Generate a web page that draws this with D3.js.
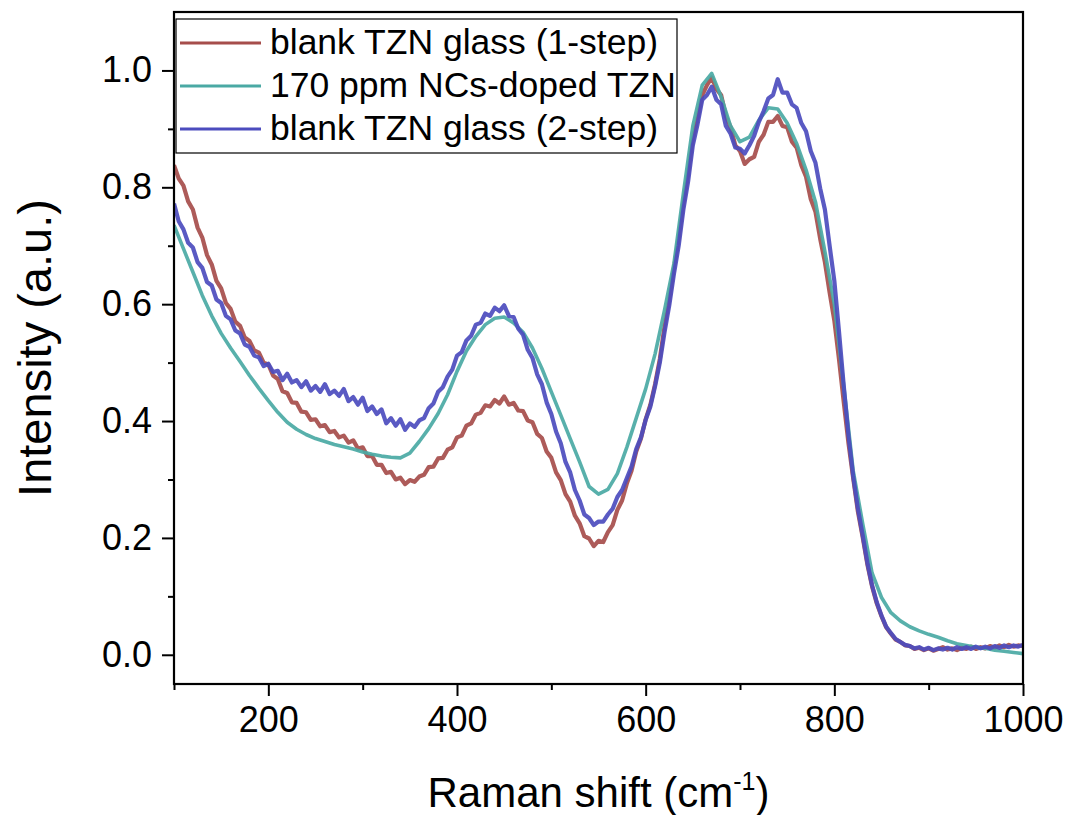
<!DOCTYPE html>
<html>
<head>
<meta charset="utf-8">
<script src="https://cdn.jsdelivr.net/npm/d3@7"></script>
<style>
  html, body { margin: 0; padding: 0; background: #fff; }
  svg { display: block; font-family: "Liberation Sans", Arial, sans-serif; }
</style>
</head>
<body>
<svg id="chart" width="1071" height="815"></svg>
<script>
// Raman spectra of TZN glasses, normalised intensity vs. Raman shift (cm^-1)
const seriesNames = ["blank TZN glass (1-step)", "170 ppm NCs-doped TZN", "blank TZN glass (2-step)"];
const seriesColors = ["#a64d4b", "#4aa9a4", "#4c4cbe"];

// noisy spectra sampled every 5 cm^-1, smooth one every 10 cm^-1
const shift5 = d3.range(100, 1001, 5);
const shift10 = d3.range(100, 1001, 10);

const blank1Step = [
  0.838,0.815,0.803,0.776,0.762,0.731,0.714,0.684,0.668,0.640,
  0.627,0.602,0.592,0.570,0.563,0.543,0.537,0.521,0.517,0.500,
  0.497,0.478,0.472,0.451,0.448,0.432,0.431,0.416,0.415,0.402,
  0.403,0.391,0.393,0.381,0.383,0.372,0.375,0.363,0.367,0.353,
  0.355,0.340,0.340,0.325,0.325,0.311,0.313,0.300,0.303,0.292,
  0.299,0.296,0.305,0.308,0.321,0.322,0.336,0.337,0.351,0.355,
  0.372,0.375,0.392,0.396,0.411,0.414,0.427,0.425,0.436,0.430,
  0.442,0.428,0.431,0.418,0.417,0.401,0.398,0.378,0.371,0.348,
  0.337,0.312,0.299,0.275,0.262,0.238,0.225,0.203,0.199,0.186,
  0.195,0.193,0.210,0.222,0.248,0.264,0.293,0.315,0.348,0.370,
  0.403,0.428,0.463,0.506,0.562,0.607,0.662,0.712,0.772,0.822,
  0.882,0.917,0.958,0.975,0.988,0.968,0.958,0.922,0.903,0.872,
  0.862,0.840,0.848,0.852,0.878,0.890,0.912,0.912,0.922,0.905,
  0.903,0.878,0.868,0.838,0.818,0.780,0.758,0.712,0.672,0.620,
  0.572,0.505,0.432,0.362,0.302,0.245,0.202,0.155,0.117,0.088,
  0.066,0.047,0.036,0.026,0.022,0.016,0.015,0.010,0.012,0.008,
  0.011,0.007,0.010,0.013,0.009,0.011,0.008,0.012,0.010,0.014,
  0.010,0.013,0.011,0.015,0.012,0.016,0.013,0.017,0.014,0.016,
  0.015
];

const doped170 = [
  0.735,0.695,0.655,0.615,0.580,0.550,0.525,0.502,0.478,0.456,
  0.435,0.415,0.398,0.386,0.377,0.370,0.365,0.360,0.356,0.352,
  0.347,0.343,0.340,0.338,0.337,0.345,0.365,0.387,0.413,0.445,
  0.485,0.520,0.545,0.565,0.576,0.578,0.568,0.552,0.525,0.490,
  0.450,0.410,0.370,0.330,0.288,0.275,0.283,0.310,0.355,0.405,
  0.455,0.515,0.590,0.670,0.790,0.905,0.975,0.995,0.955,0.905,
  0.878,0.886,0.915,0.936,0.934,0.910,0.875,0.830,0.775,0.690,
  0.600,0.460,0.315,0.225,0.140,0.098,0.072,0.058,0.048,0.041,
  0.035,0.030,0.024,0.019,0.016,0.013,0.011,0.008,0.006,0.004,
  0.002
];

const blank2Step = [
  0.772,0.742,0.728,0.705,0.697,0.672,0.662,0.638,0.632,0.608,
  0.602,0.580,0.574,0.555,0.550,0.531,0.527,0.512,0.509,0.494,
  0.498,0.484,0.486,0.470,0.481,0.466,0.470,0.458,0.468,0.452,
  0.460,0.450,0.463,0.446,0.452,0.443,0.455,0.434,0.441,0.428,
  0.440,0.417,0.425,0.412,0.420,0.396,0.405,0.392,0.403,0.385,
  0.396,0.390,0.401,0.405,0.422,0.430,0.450,0.458,0.476,0.488,
  0.512,0.518,0.538,0.546,0.565,0.568,0.584,0.580,0.594,0.588,
  0.598,0.580,0.578,0.558,0.548,0.522,0.508,0.480,0.463,0.432,
  0.412,0.382,0.362,0.330,0.312,0.282,0.264,0.240,0.234,0.222,
  0.228,0.228,0.240,0.250,0.270,0.282,0.302,0.322,0.352,0.372,
  0.402,0.425,0.460,0.500,0.552,0.598,0.652,0.700,0.762,0.810,
  0.872,0.908,0.950,0.958,0.972,0.950,0.942,0.905,0.892,0.868,
  0.866,0.858,0.872,0.888,0.912,0.930,0.952,0.958,0.985,0.962,
  0.962,0.942,0.936,0.910,0.896,0.862,0.842,0.798,0.762,0.700,
  0.640,0.552,0.460,0.375,0.306,0.250,0.205,0.158,0.119,0.090,
  0.067,0.048,0.037,0.027,0.022,0.017,0.015,0.011,0.013,0.009,
  0.012,0.008,0.011,0.009,0.012,0.009,0.013,0.010,0.013,0.010,
  0.014,0.011,0.014,0.011,0.015,0.012,0.016,0.013,0.016,0.014,
  0.017
];

const xMajorTicks = [200, 400, 600, 800, 1000];
const xMinorTicks = [100, 300, 500, 700, 900];
const yMajorTicks = [0.0, 0.2, 0.4, 0.6, 0.8, 1.0];
const yMinorTicks = [0.1, 0.3, 0.5, 0.7, 0.9];

const series = [
  { name: seriesNames[0], color: seriesColors[0], x: shift5,  y: blank1Step, width: 4.2 },
  { name: seriesNames[1], color: seriesColors[1], x: shift10, y: doped170,   width: 3.6 },
  { name: seriesNames[2], color: seriesColors[2], x: shift5,  y: blank2Step, width: 4.2 }
];

const svg = d3.select("#chart");
const plot = { left: 174, right: 1023, top: 12, bottom: 684 };

const x = d3.scaleLinear().domain([100, 1000]).range([plot.left, plot.right]);
const y = d3.scaleLinear().domain([-0.05, 1.1]).range([plot.bottom, plot.top]);

svg.append("defs").append("clipPath").attr("id", "plotClip")
  .append("rect")
  .attr("x", plot.left).attr("y", plot.top)
  .attr("width", plot.right - plot.left).attr("height", plot.bottom - plot.top);

// spectra
const line = d3.line().x(d => x(d[0])).y(d => y(d[1]));
const lines = svg.append("g").attr("clip-path", "url(#plotClip)");
series.forEach(s => {
  lines.append("path")
    .datum(s.x.map((v, i) => [v, s.y[i]]))
    .attr("fill", "none")
    .attr("stroke", s.color)
    .attr("stroke-opacity", 0.92)
    .attr("stroke-width", s.width)
    .attr("stroke-linejoin", "round")
    .attr("d", line);
});

// axes
function styleAxis(g, size) {
  g.select(".domain").remove();
  g.selectAll(".tick line").attr("stroke", "#000").attr("stroke-width", 2);
  g.selectAll(".tick text").attr("fill", "#000").style("font-size", size + "px");
}

const tickFont = 36;

svg.append("g")
  .attr("transform", `translate(0,${plot.bottom})`)
  .call(d3.axisBottom(x).tickValues(xMajorTicks).tickSize(12).tickPadding(10).tickFormat(d3.format("d")))
  .call(g => styleAxis(g, tickFont));

svg.append("g")
  .attr("transform", `translate(0,${plot.bottom})`)
  .call(d3.axisBottom(x).tickValues(xMinorTicks).tickSize(6).tickFormat(""))
  .call(g => styleAxis(g, tickFont));

svg.append("g")
  .attr("transform", `translate(${plot.left},0)`)
  .call(d3.axisLeft(y).tickValues(yMajorTicks).tickSize(12).tickPadding(10).tickFormat(d3.format(".1f")))
  .call(g => styleAxis(g, tickFont));

svg.append("g")
  .attr("transform", `translate(${plot.left},0)`)
  .call(d3.axisLeft(y).tickValues(yMinorTicks).tickSize(6).tickFormat(""))
  .call(g => styleAxis(g, tickFont));

// frame
svg.append("rect")
  .attr("x", plot.left).attr("y", plot.top)
  .attr("width", plot.right - plot.left).attr("height", plot.bottom - plot.top)
  .attr("fill", "none").attr("stroke", "#000").attr("stroke-width", 2.2);

// axis titles
const xTitle = svg.append("text")
  .attr("x", (plot.left + plot.right) / 2).attr("y", 807)
  .attr("text-anchor", "middle")
  .style("font-size", "42px").attr("fill", "#000");
xTitle.append("tspan").text("Raman shift (cm");
xTitle.append("tspan").attr("dy", -17).style("font-size", "25px").text("-1");
xTitle.append("tspan").attr("dy", 17).text(")");

svg.append("text")
  .attr("transform", `translate(51,${(plot.top + plot.bottom) / 2}) rotate(-90)`)
  .attr("text-anchor", "middle")
  .style("font-size", "47px").attr("fill", "#000")
  .text("Intensity (a.u.)");

// legend
const legend = svg.append("g");
legend.append("rect")
  .attr("x", 176).attr("y", 19).attr("width", 501).attr("height", 134)
  .attr("fill", "#fff").attr("stroke", "#000").attr("stroke-width", 1.2);
series.forEach((s, i) => {
  const cy = 43 + i * 43;
  legend.append("line")
    .attr("x1", 180).attr("x2", 261).attr("y1", cy).attr("y2", cy)
    .attr("stroke", s.color).attr("stroke-width", 3);
  legend.append("text")
    .attr("x", 270).attr("y", cy + 11)
    .style("font-size", "35.5px").attr("fill", "#000")
    .text(s.name);
});
</script>
</body>
</html>
